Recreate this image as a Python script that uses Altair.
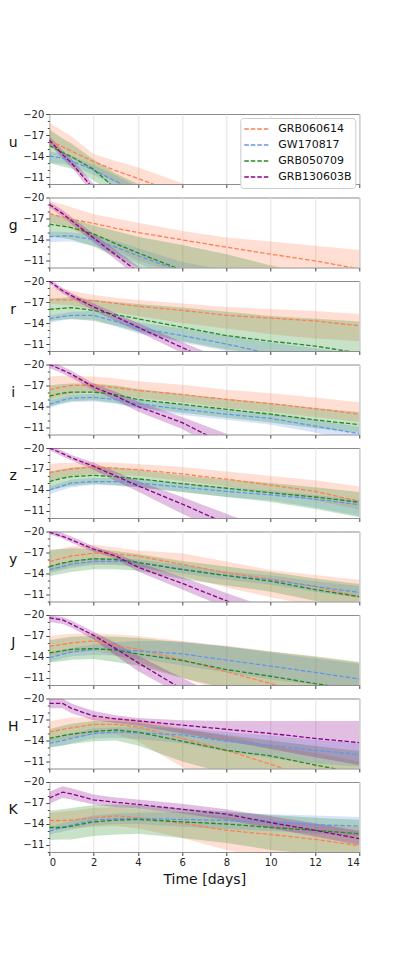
import altair as alt
import pandas as pd

T = [0, 0.6, 1, 2, 3, 4, 6, 8, 10, 12, 14]
SERIES = ["GRB060614", "GW170817", "GRB050709", "GRB130603B"]
COLORS = ["#ff7f50", "#6495ed", "#228b22", "#8b008b"]
BANDS = ["u", "g", "r", "i", "z", "y", "J", "H", "K"]
X_TICKS = [0, 2, 4, 6, 8, 10, 12, 14]
Y_TICKS = [-20, -17, -14, -11]
Y_MINOR = [-19, -18, -16, -15, -13, -12, -10]

# ---- u ----
u_mid = {
    "GRB060614": [-16.2, -15.3, -14.7, -13.2, -11.9, -10.8, -8.4, -6.0, -4.0, -2.0, 0.0],
    "GW170817": [-14.0, -13.7, -13.3, -12.0, -10.4, -8.8, -6.0, -4.0, -2.0, 0.0, 2.0],
    "GRB050709": [-15.5, -14.5, -13.9, -12.1, -9.3, -7.5, -5.0, -3.0, -1.0, 1.0, 3.0],
    "GRB130603B": [-16.3, -14.2, -13.0, -9.3, -6.0, -3.0, 0.0, 2.0, 4.0, 6.0, 8.0],
}
u_bright = {
    "GRB060614": [-18.7, -17.6, -16.8, -14.3, -13.3, -12.4, -10.1, -8.0, -6.0, -4.0, -2.0],
    "GW170817": [-14.6, -14.4, -14.0, -12.7, -11.2, -9.6, -7.0, -5.0, -3.0, -1.0, 1.0],
    "GRB050709": [-17.8, -16.5, -15.8, -13.5, -11.5, -10.0, -7.0, -5.0, -3.0, -1.0, 1.0],
    "GRB130603B": [-16.9, -14.8, -13.6, -10.0, -7.0, -4.0, -1.0, 1.0, 3.0, 5.0, 7.0],
}
u_faint = {
    "GRB060614": [-15.4, -14.3, -13.7, -11.8, -10.2, -8.8, -6.0, -4.0, -2.0, 0.0, 2.0],
    "GW170817": [-13.0, -12.9, -12.6, -11.3, -9.7, -8.0, -5.0, -3.0, -1.0, 1.0, 3.0],
    "GRB050709": [-13.0, -12.5, -12.2, -10.5, -8.5, -6.5, -4.0, -2.0, 0.0, 2.0, 4.0],
    "GRB130603B": [-15.7, -13.6, -12.4, -8.6, -5.0, -2.0, 1.0, 3.0, 5.0, 7.0, 9.0],
}
# ---- g ----
g_mid = {
    "GRB060614": [-17.7, -17.2, -16.9, -16.3, -15.6, -15.0, -13.95, -12.9, -11.9, -10.95, -9.8],
    "GW170817": [-14.4, -14.5, -14.5, -14.0, -12.9, -11.7, -9.4, -7.0, -5.0, -3.0, -1.0],
    "GRB050709": [-16.2, -15.9, -15.7, -14.8, -13.4, -12.1, -9.6, -7.0, -5.0, -3.0, -1.0],
    "GRB130603B": [-19.0, -17.7, -16.7, -14.2, -11.8, -9.4, -5.0, -1.0, 2.0, 4.0, 6.0],
}
g_bright = {
    "GRB060614": [-19.5, -19.0, -18.6, -17.6, -17.0, -16.4, -15.2, -14.3, -13.7, -13.1, -12.5],
    "GW170817": [-15.1, -15.1, -15.0, -14.7, -13.8, -12.8, -10.8, -9.6, -8.0, -6.0, -4.0],
    "GRB050709": [-17.6, -17.3, -17.0, -16.0, -15.2, -14.4, -13.2, -11.9, -10.3, -9.0, -7.5],
    "GRB130603B": [-19.4, -18.2, -17.2, -14.8, -12.5, -10.2, -6.0, -2.0, 1.0, 3.0, 5.0],
}
g_faint = {
    "GRB060614": [-16.5, -16.0, -15.5, -14.0, -12.5, -11.0, -9.0, -7.0, -5.0, -3.0, -1.0],
    "GW170817": [-13.6, -13.7, -13.7, -13.1, -11.9, -10.6, -8.0, -6.0, -4.0, -2.0, 0.0],
    "GRB050709": [-14.4, -14.2, -14.0, -13.0, -11.5, -10.0, -8.0, -6.0, -4.0, -2.0, 0.0],
    "GRB130603B": [-18.6, -17.2, -16.2, -13.6, -11.1, -8.6, -4.0, 0.0, 3.0, 5.0, 7.0],
}
# ---- r ----
r_mid = {
    "GRB060614": [-17.3, -17.3, -17.3, -17.2, -16.8, -16.4, -15.8, -15.1, -14.7, -14.3, -13.6],
    "GW170817": [-14.6, -14.95, -15.1, -15.1, -14.2, -13.3, -12.2, -11.0, -9.6, -8.5, -7.5],
    "GRB050709": [-15.95, -16.1, -16.2, -15.8, -15.2, -14.6, -13.4, -12.2, -11.4, -10.7, -9.7],
    "GRB130603B": [-20.0, -18.6, -17.9, -16.3, -14.9, -13.4, -10.5, -7.6, -4.7, -1.8, 1.0],
}
r_bright = {
    "GRB060614": [-19.3, -18.9, -18.6, -18.0, -17.6, -17.3, -16.8, -16.3, -16.0, -15.7, -15.3],
    "GW170817": [-15.1, -15.4, -15.6, -15.7, -14.9, -14.1, -13.2, -12.2, -11.2, -10.4, -9.6],
    "GRB050709": [-17.5, -17.6, -17.7, -17.3, -17.0, -16.7, -16.2, -15.6, -15.0, -14.6, -14.2],
    "GRB130603B": [-20.4, -19.0, -18.3, -16.8, -15.4, -14.0, -11.3, -8.6, -6.0, -3.0, 0.0],
}
r_faint = {
    "GRB060614": [-16.8, -16.6, -16.5, -16.0, -15.5, -15.0, -14.0, -13.2, -12.4, -11.8, -11.4],
    "GW170817": [-14.0, -14.4, -14.5, -14.5, -13.5, -12.5, -11.2, -10.0, -9.0, -8.0, -7.0],
    "GRB050709": [-14.3, -14.5, -14.6, -14.3, -13.6, -12.8, -11.4, -10.2, -9.5, -9.0, -8.5],
    "GRB130603B": [-19.6, -18.2, -17.5, -15.8, -14.3, -12.8, -9.7, -6.6, -3.5, -0.5, 2.5],
}
# ---- i ----
i_mid = {
    "GRB060614": [-16.4, -16.8, -17.0, -17.05, -16.7, -16.3, -15.7, -15.0, -14.4, -13.7, -12.9],
    "GW170817": [-14.3, -14.9, -15.2, -15.3, -15.0, -14.4, -13.6, -12.9, -12.3, -11.2, -10.1],
    "GRB050709": [-15.5, -15.9, -16.05, -16.05, -15.7, -15.0, -14.3, -13.6, -12.9, -12.1, -11.4],
    "GRB130603B": [-20.0, -19.2, -18.6, -16.8, -15.5, -14.0, -11.7, -8.5, -5.5, -2.5, 0.5],
}
i_bright = {
    "GRB060614": [-18.3, -18.4, -18.4, -18.3, -18.0, -17.6, -17.1, -16.4, -15.9, -15.3, -14.6],
    "GW170817": [-14.9, -15.4, -15.7, -15.8, -15.6, -15.0, -14.3, -13.6, -13.0, -12.1, -11.1],
    "GRB050709": [-17.0, -17.2, -17.3, -17.3, -17.0, -16.5, -15.8, -15.1, -14.5, -13.8, -13.2],
    "GRB130603B": [-20.5, -19.7, -19.1, -17.3, -16.1, -14.7, -12.5, -10.1, -7.7, -5.3, -3.0],
}
i_faint = {
    "GRB060614": [-15.0, -15.5, -15.8, -16.0, -15.6, -15.2, -14.6, -13.8, -13.2, -12.5, -11.8],
    "GW170817": [-13.8, -14.4, -14.6, -14.7, -14.4, -13.7, -12.8, -12.1, -11.4, -10.3, -9.1],
    "GRB050709": [-14.0, -14.5, -14.8, -14.9, -14.5, -13.9, -13.1, -12.4, -11.7, -10.9, -10.2],
    "GRB130603B": [-19.5, -18.7, -18.1, -16.3, -14.9, -13.3, -10.8, -7.2, -4.0, -1.0, 2.0],
}
# ---- z ----
z_mid = {
    "GRB060614": [-16.5, -16.8, -17.0, -17.3, -17.1, -16.9, -16.3, -15.55, -14.7, -13.8, -12.4],
    "GW170817": [-14.0, -14.6, -15.0, -15.2, -15.2, -15.0, -14.4, -13.8, -13.3, -12.7, -11.9],
    "GRB050709": [-15.2, -15.7, -15.9, -16.1, -15.9, -15.6, -14.9, -14.25, -13.6, -13.0, -12.25],
    "GRB130603B": [-20.0, -19.2, -18.6, -17.4, -16.0, -14.6, -12.0, -9.2, -6.5, -4.0, -1.5],
}
z_bright = {
    "GRB060614": [-17.75, -17.85, -17.9, -18.0, -17.9, -17.7, -17.3, -16.65, -16.0, -15.4, -14.5],
    "GW170817": [-14.5, -15.1, -15.5, -15.7, -15.7, -15.6, -15.0, -14.4, -13.9, -13.3, -12.6],
    "GRB050709": [-16.6, -17.0, -17.2, -17.4, -17.2, -16.9, -16.1, -15.5, -15.0, -14.4, -13.7],
    "GRB130603B": [-20.4, -19.6, -19.0, -17.9, -16.6, -15.3, -13.0, -10.6, -8.2, -5.8, -3.4],
}
z_faint = {
    "GRB060614": [-15.3, -15.7, -16.0, -16.3, -16.2, -16.0, -15.3, -14.5, -13.6, -12.5, -11.2],
    "GW170817": [-13.4, -14.0, -14.4, -14.7, -14.6, -14.4, -13.7, -13.0, -12.5, -11.5, -10.3],
    "GRB050709": [-13.9, -14.4, -14.6, -14.9, -14.7, -14.4, -13.7, -13.0, -12.3, -11.3, -10.1],
    "GRB130603B": [-19.7, -18.8, -18.2, -16.9, -15.3, -13.8, -10.6, -7.7, -4.8, -2.0, 1.0],
}
# ---- y ----
y_mid = {
    "GRB060614": [-15.7, -16.2, -16.5, -16.9, -16.8, -16.5, -15.3, -14.1, -13.2, -12.15, -10.7],
    "GW170817": [-14.55, -15.0, -15.35, -15.75, -15.75, -15.5, -14.65, -13.7, -13.1, -12.15, -11.3],
    "GRB050709": [-15.0, -15.5, -15.75, -16.1, -16.0, -15.6, -14.55, -13.7, -12.9, -11.7, -10.7],
    "GRB130603B": [-19.9, -19.3, -18.8, -17.5, -16.5, -14.9, -12.6, -10.1, -7.6, -5.0, -2.5],
}
y_bright = {
    "GRB060614": [-17.2, -17.6, -17.9, -18.1, -17.7, -17.3, -16.9, -15.7, -14.5, -13.8, -13.1],
    "GW170817": [-15.0, -15.5, -15.8, -16.2, -16.2, -16.0, -15.2, -14.3, -13.7, -12.9, -12.2],
    "GRB050709": [-17.4, -17.5, -17.6, -17.5, -17.2, -16.8, -15.8, -15.0, -14.2, -13.3, -12.5],
    "GRB130603B": [-20.3, -19.8, -19.3, -17.9, -16.9, -15.6, -13.5, -11.2, -9.0, -6.8, -4.6],
}
y_faint = {
    "GRB060614": [-14.3, -14.7, -15.0, -15.4, -15.3, -15.0, -13.6, -12.0, -10.6, -9.4, -8.3],
    "GW170817": [-14.0, -14.5, -14.8, -15.2, -15.2, -14.9, -14.0, -13.1, -12.4, -11.4, -10.5],
    "GRB050709": [-13.6, -14.0, -14.2, -14.6, -14.6, -14.4, -13.2, -12.3, -11.4, -10.1, -9.3],
    "GRB130603B": [-19.6, -19.0, -18.4, -17.1, -16.1, -14.3, -11.7, -9.1, -6.5, -4.0, -1.5],
}
# ---- J ----
J_mid = {
    "GRB060614": [-15.55, -15.8, -16.0, -16.3, -15.65, -15.1, -13.6, -11.9, -10.2, -8.4, -6.6],
    "GW170817": [-13.9, -14.4, -14.7, -15.1, -15.1, -14.85, -14.45, -13.55, -12.7, -11.8, -10.85],
    "GRB050709": [-14.6, -14.9, -15.1, -15.2, -15.0, -14.45, -13.5, -12.2, -11.25, -10.2, -9.3],
    "GRB130603B": [-19.6, -19.3, -18.7, -17.1, -15.2, -13.2, -9.4, -5.6, -2.0, 1.5, 5.0],
}
J_bright = {
    "GRB060614": [-17.0, -17.2, -17.3, -17.4, -17.2, -17.0, -16.3, -15.6, -14.8, -14.0, -13.2],
    "GW170817": [-14.6, -15.0, -15.3, -15.8, -16.1, -16.3, -16.2, -15.5, -14.6, -13.8, -13.0],
    "GRB050709": [-16.4, -16.7, -16.9, -17.0, -16.9, -16.7, -16.1, -15.5, -14.8, -14.1, -13.3],
    "GRB130603B": [-20.0, -19.7, -19.2, -17.6, -16.0, -14.2, -11.0, -8.0, -5.0, -2.0, 1.0],
}
J_faint = {
    "GRB060614": [-14.2, -14.4, -14.6, -14.9, -14.2, -13.3, -11.0, -9.0, -7.0, -5.0, -3.0],
    "GW170817": [-13.3, -13.8, -14.1, -14.3, -14.2, -13.8, -12.8, -11.8, -10.8, -10.0, -9.5],
    "GRB050709": [-13.2, -13.4, -13.6, -13.7, -13.3, -12.8, -11.0, -9.5, -8.5, -7.5, -6.5],
    "GRB130603B": [-19.0, -18.7, -18.2, -16.5, -14.2, -12.0, -8.5, -5.0, -2.0, 1.0, 4.0],
}
# ---- H ----
H_mid = {
    "GRB060614": [-15.2, -15.6, -15.8, -16.3, -16.3, -15.95, -14.3, -12.6, -10.6, -8.5, -6.4],
    "GW170817": [-13.6, -14.0, -14.3, -15.0, -15.2, -15.1, -14.8, -13.9, -13.3, -12.6, -12.0],
    "GRB050709": [-14.3, -14.7, -14.9, -15.3, -15.5, -15.2, -13.9, -12.6, -11.8, -10.5, -9.3],
    "GRB130603B": [-19.3, -19.3, -18.6, -17.5, -17.1, -16.8, -16.2, -15.6, -15.0, -14.3, -13.7],
}
H_bright = {
    "GRB060614": [-16.7, -17.1, -17.3, -17.3, -17.2, -17.0, -15.8, -14.6, -13.3, -12.2, -11.0],
    "GW170817": [-14.2, -14.7, -15.0, -15.7, -15.9, -15.9, -15.8, -15.2, -14.7, -14.1, -13.6],
    "GRB050709": [-15.6, -16.1, -16.4, -16.8, -16.8, -16.6, -15.6, -14.8, -14.0, -13.2, -12.5],
    "GRB130603B": [-20.0, -20.0, -19.3, -18.2, -17.6, -17.2, -16.9, -16.8, -16.8, -16.8, -16.8],
}
H_faint = {
    "GRB060614": [-13.8, -14.2, -14.4, -14.9, -14.9, -13.9, -10.2, -7.0, -4.0, -1.0, 2.0],
    "GW170817": [-13.0, -13.3, -13.6, -14.3, -14.4, -14.2, -13.6, -12.4, -11.5, -10.7, -10.3],
    "GRB050709": [-13.0, -13.3, -13.5, -13.9, -14.0, -13.3, -11.0, -9.3, -8.0, -7.0, -6.0],
    "GRB130603B": [-18.6, -18.6, -17.9, -16.9, -16.5, -16.1, -15.0, -13.9, -12.8, -11.6, -10.5],
}
# ---- K ----
K_mid = {
    "GRB060614": [-14.5, -14.5, -14.55, -14.9, -15.15, -14.9, -14.1, -13.1, -12.5, -11.8, -10.9],
    "GW170817": [-13.0, -13.5, -13.85, -14.55, -14.75, -14.8, -14.65, -14.5, -14.25, -13.9, -13.7],
    "GRB050709": [-13.5, -13.5, -13.7, -14.3, -14.55, -14.65, -14.3, -14.0, -13.5, -13.1, -12.6],
    "GRB130603B": [-17.7, -18.55, -18.3, -17.45, -17.1, -16.8, -16.1, -15.4, -14.2, -13.1, -11.9],
}
K_bright = {
    "GRB060614": [-15.6, -15.8, -15.9, -16.3, -16.4, -16.1, -15.6, -15.0, -14.5, -14.0, -13.5],
    "GW170817": [-13.6, -14.1, -14.5, -15.2, -15.5, -15.6, -15.7, -15.6, -15.4, -15.2, -15.0],
    "GRB050709": [-15.9, -16.1, -16.3, -16.7, -16.8, -16.7, -16.2, -15.8, -15.3, -14.9, -14.6],
    "GRB130603B": [-18.6, -19.4, -19.1, -18.2, -17.8, -17.5, -16.9, -16.1, -15.1, -14.1, -13.0],
}
K_faint = {
    "GRB060614": [-13.3, -13.35, -13.4, -13.6, -13.7, -13.4, -12.0, -10.3, -9.0, -8.0, -7.0],
    "GW170817": [-12.5, -12.9, -13.2, -13.8, -14.0, -14.0, -13.6, -13.3, -13.0, -12.6, -12.3],
    "GRB050709": [-11.7, -11.8, -11.8, -12.3, -12.5, -12.6, -12.0, -11.3, -10.3, -9.7, -9.4],
    "GRB130603B": [-16.9, -17.7, -17.5, -16.8, -16.4, -16.2, -15.5, -14.6, -13.4, -12.2, -11.0],
}

DATA = {
    "u": (u_mid, u_bright, u_faint),
    "g": (g_mid, g_bright, g_faint),
    "r": (r_mid, r_bright, r_faint),
    "i": (i_mid, i_bright, i_faint),
    "z": (z_mid, z_bright, z_faint),
    "y": (y_mid, y_bright, y_faint),
    "J": (J_mid, J_bright, J_faint),
    "H": (H_mid, H_bright, H_faint),
    "K": (K_mid, K_bright, K_faint),
}

rows = []
for b in BANDS:
    mid, bright, faint = DATA[b]
    for s in SERIES:
        for k, t in enumerate(T):
            rows.append({"band": b, "series": s, "t": t,
                         "mid": mid[s][k], "bright": bright[s][k], "faint": faint[s][k]})
df = pd.DataFrame(rows)

FONT = "DejaVu Sans"
MINUS = "replace(datum.label, '-', '\u2212')"


def panel(b, first, last):
    d = df[df["band"] == b]
    xaxis = alt.Axis(values=X_TICKS, title="Time [days]" if last else None,
                     labels=last, format="d", titlePadding=5)
    x = alt.X("t:Q", scale=alt.Scale(domain=[0, 14], nice=False, zero=False), axis=xaxis)
    yaxis = alt.Axis(values=Y_TICKS, title=b, titleAngle=0, titleX=-36.6, titleY=28,
                     titleAlign="center", titleBaseline="middle", format="d",
                     labelExpr=MINUS, orient="left")
    yminor = alt.Axis(values=Y_MINOR, title=None, labels=False, grid=False,
                      tickSize=2, orient="left")
    yscale = alt.Scale(domain=[-20, -10], reverse=True, nice=False, zero=False)

    layers = []
    for k, (s, c) in enumerate(zip(SERIES, COLORS)):
        ds = d[d["series"] == s]
        layers.append(
            alt.Chart(ds).mark_area(color=c, fillOpacity=0.25, clip=True).encode(
                x=x,
                y=alt.Y("bright:Q", scale=yscale, axis=yminor if k == 0 else None),
                y2="faint:Q",
            )
        )
    if first:
        legend = alt.Legend(title=None, orient="top-right", offset=4,
                            symbolType="stroke", symbolDash=[4.5, 2], symbolStrokeWidth=1.5,
                            symbolSize=576, clipHeight=16, labelFontSize=11, labelFont=FONT,
                            padding=3, strokeColor="#cccccc", fillColor="white",
                            cornerRadius=3, rowPadding=0, labelOffset=9, labelColor="#111111")
    else:
        legend = None
    line = alt.Chart(d).mark_line(strokeDash=[4.5, 2], strokeWidth=1.3, clip=True).encode(
        x=x,
        y=alt.Y("mid:Q", scale=yscale, axis=yaxis),
        color=alt.Color("series:N", scale=alt.Scale(domain=SERIES, range=COLORS),
                        legend=legend, sort=SERIES),
    )
    layers.append(line)
    return alt.layer(*layers).resolve_axis(y="independent").properties(width=310, height=70)


panels = [panel(b, i == 0, i == len(BANDS) - 1) for i, b in enumerate(BANDS)]

chart = alt.vconcat(*panels, spacing=2.5).resolve_scale(
    color="independent").resolve_legend(color="independent").properties(
    padding={"left": -1.7, "top": 100, "right": 5, "bottom": 5}
).configure_view(
    stroke="#8c8c8c", strokeWidth=1
).configure_axis(
    grid=True, gridColor="#e3e3e3", gridWidth=1, domain=False,
    tickColor="#444444", tickSize=3.5, labelColor="#222222", labelFont=FONT,
    labelFontSize=10, labelPadding=2, titleFont=FONT, titleFontWeight="normal",
    titleColor="#111111", titleFontSize=14
)

chart.save("out.html", embed_options={"renderer": "svg", "actions": False})
